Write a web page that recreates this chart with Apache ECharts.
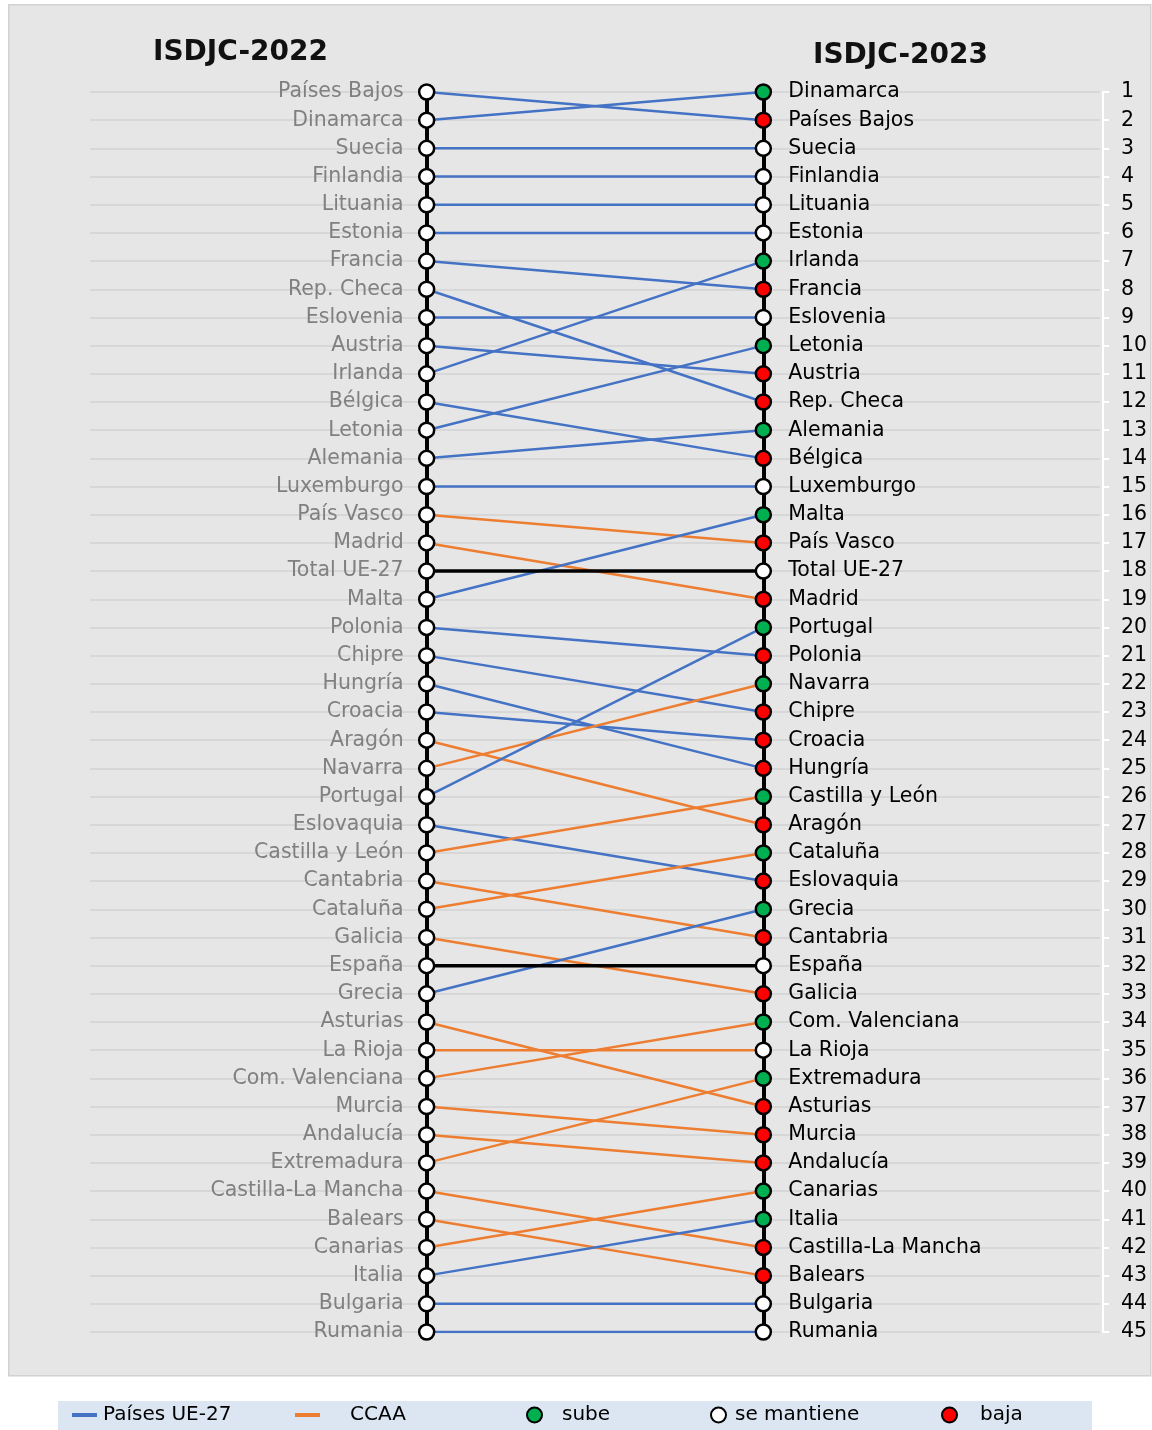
<!DOCTYPE html>
<html>
<head>
<meta charset="utf-8">
<script src="https://cdn.jsdelivr.net/npm/echarts@6/dist/echarts.min.js"></script>
<style>
  html, body { margin: 0; padding: 0; background: #fff; }
  #chart { width: 1152px; height: 1430px; }
</style>
</head>
<body>
<div id="chart"></div>
<script>
// ranking 2022 (posicion 1..45)
const names2022 = ['Países Bajos','Dinamarca','Suecia','Finlandia','Lituania','Estonia','Francia','Rep. Checa',
  'Eslovenia','Austria','Irlanda','Bélgica','Letonia','Alemania','Luxemburgo','País Vasco','Madrid','Total UE-27',
  'Malta','Polonia','Chipre','Hungría','Croacia','Aragón','Navarra','Portugal','Eslovaquia','Castilla y León',
  'Cantabria','Cataluña','Galicia','España','Grecia','Asturias','La Rioja','Com. Valenciana','Murcia','Andalucía',
  'Extremadura','Castilla-La Mancha','Balears','Canarias','Italia','Bulgaria','Rumania']
// ranking 2023
const names2023 = ['Dinamarca','Países Bajos','Suecia','Finlandia','Lituania','Estonia','Irlanda','Francia',
  'Eslovenia','Letonia','Austria','Rep. Checa','Alemania','Bélgica','Luxemburgo','Malta','País Vasco','Total UE-27',
  'Madrid','Portugal','Polonia','Navarra','Chipre','Croacia','Hungría','Castilla y León','Aragón','Cataluña',
  'Eslovaquia','Grecia','Cantabria','España','Galicia','Com. Valenciana','La Rioja','Extremadura','Asturias',
  'Murcia','Andalucía','Canarias','Italia','Castilla-La Mancha','Balears','Bulgaria','Rumania']
const ccaa = ['País Vasco','Madrid','Aragón','Navarra','Castilla y León','Cantabria','Cataluña','Galicia',
  'Asturias','La Rioja','Com. Valenciana','Murcia','Andalucía','Extremadura','Castilla-La Mancha','Balears','Canarias']
const totales = ['Total UE-27','España']
const ranks = names2023.map((d, i) => String(i + 1))

const FONT = 'DejaVu Sans'
const colUE = '#4472C4', colCCAA = '#ED7D31'

let charts = echarts.init(document.getElementById('chart'))

let series = []
names2022.forEach(name => {
  let r22 = names2022.indexOf(name)
  let r23 = names2023.indexOf(name)
  let grupo = totales.includes(name) ? 'Total' : (ccaa.includes(name) ? 'CCAA' : 'Países UE-27')
  let color = grupo === 'Total' ? '#000' : (grupo === 'CCAA' ? colCCAA : colUE)
  series.push({
    name: grupo,
    type: 'line',
    symbol: 'none',
    color: color,
    lineStyle: { color: color, width: grupo === 'Total' ? 3.5 : 2.5 },
    z: grupo === 'Total' ? 3 : 2,
    silent: true,
    data: [[0, r22], [1, r23]]
  })
})

// puntos
const pt = (fill) => ({ color: fill, borderColor: '#000', borderWidth: 2.5, opacity: 1 })
const SYM = 15
series.push({
  name: '2022', type: 'scatter', symbolSize: SYM, z: 5, itemStyle: pt('#fff'),
  data: names2022.map((n, i) => [0, i])
})
series.push({
  name: 'sube', type: 'scatter', symbolSize: SYM, z: 5, itemStyle: pt('#00B050'),
  data: names2023.map((n, i) => [1, i]).filter(d => d[1] < names2022.indexOf(names2023[d[1]]))
})
series.push({
  name: 'se mantiene', type: 'scatter', symbolSize: SYM, z: 5, itemStyle: pt('#fff'),
  data: names2023.map((n, i) => [1, i]).filter(d => d[1] === names2022.indexOf(names2023[d[1]]))
})
series.push({
  name: 'baja', type: 'scatter', symbolSize: SYM, z: 5, itemStyle: pt('#FF0000'),
  data: names2023.map((n, i) => [1, i]).filter(d => d[1] > names2022.indexOf(names2023[d[1]]))
})

const gridW = 1010
const legText = (pad) => ({ fontFamily: FONT, fontSize: 20, color: '#000', padding: [0, 0, 0, pad] })
const legendBase = { orient: 'horizontal', padding: 0, selectedMode: false }

let option = {
  backgroundColor: '#fff',
  animation: false,
  graphic: [
    { type: 'rect', left: 8, top: 4, shape: { width: 1142, height: 1371 },
      style: { fill: '#e6e6e6', stroke: '#d2d2d2', lineWidth: 1.5 }, z: -10 },
    { type: 'rect', left: 58, top: 1401, shape: { width: 1034, height: 29 },
      style: { fill: '#dce6f2' }, z: -10 }
  ],
  title: [
    { text: 'ISDJC-2022', left: 153, top: 39, padding: 0,
      textStyle: { fontFamily: FONT, fontSize: 28, fontWeight: 'bold', color: '#111' } },
    { text: 'ISDJC-2023', left: 813, top: 42, padding: 0,
      textStyle: { fontFamily: FONT, fontSize: 28, fontWeight: 'bold', color: '#111' } }
  ],
  legend: [
    Object.assign({}, legendBase, { left: 72, top: 1405, data: [{ name: 'Países UE-27', icon: 'rect' }],
      itemWidth: 25, itemHeight: 4, textStyle: legText(1) }),
    Object.assign({}, legendBase, { left: 295, top: 1405, data: [{ name: 'CCAA', icon: 'rect' }],
      itemWidth: 25, itemHeight: 4, textStyle: legText(25) }),
    Object.assign({}, legendBase, { left: 526, top: 1405, data: [{ name: 'sube', icon: 'circle' }],
      itemWidth: 15, itemHeight: 15, textStyle: legText(15) }),
    Object.assign({}, legendBase, { left: 710, top: 1405, data: [{ name: 'se mantiene', icon: 'circle' }],
      itemWidth: 15, itemHeight: 15, textStyle: legText(4) }),
    Object.assign({}, legendBase, { left: 941, top: 1405, data: [{ name: 'baja', icon: 'circle' }],
      itemWidth: 15, itemHeight: 15, textStyle: legText(18) })
  ],
  grid: { left: 90, width: gridW, top: 92, bottom: 98, outerBoundsMode: 'none', containLabel: false },
  xAxis: { type: 'value', min: -1, max: 2, show: false },
  yAxis: [
    {
      type: 'category', data: names2022, inverse: true, boundaryGap: false,
      position: 'left', offset: -gridW / 3,
      axisLine: { show: true, onZero: false, lineStyle: { color: '#000', width: 4 } },
      axisTick: { show: false },
      axisLabel: { interval: 0, margin: 23, fontFamily: FONT, fontSize: 20.5, color: '#808080', padding: [4, 0, 0, 0] },
      splitLine: { show: true, lineStyle: { color: '#d2d2d2', width: 1.5 } }
    },
    {
      type: 'category', data: names2023, inverse: true, boundaryGap: false,
      position: 'right', offset: -gridW / 3,
      axisLine: { show: true, onZero: false, lineStyle: { color: '#000', width: 4 } },
      axisTick: { show: false },
      axisLabel: { interval: 0, margin: 25, fontFamily: FONT, fontSize: 20.5, color: '#000', padding: [4, 0, 0, 0] },
      splitLine: { show: false }
    },
    {
      type: 'category', data: ranks, inverse: true, boundaryGap: false,
      position: 'right', offset: 3,
      axisLine: { show: true, onZero: false, lineStyle: { color: '#fff', width: 2 } },
      axisTick: { show: true, inside: false, length: 6, lineStyle: { color: '#fff', width: 2 } },
      axisLabel: { interval: 0, margin: 18, fontFamily: FONT, fontSize: 20.5, color: '#000', padding: [4, 0, 0, 0] },
      splitLine: { show: false }
    }
  ],
  series: series
}

charts.setOption(option)
</script>
</body>
</html>
